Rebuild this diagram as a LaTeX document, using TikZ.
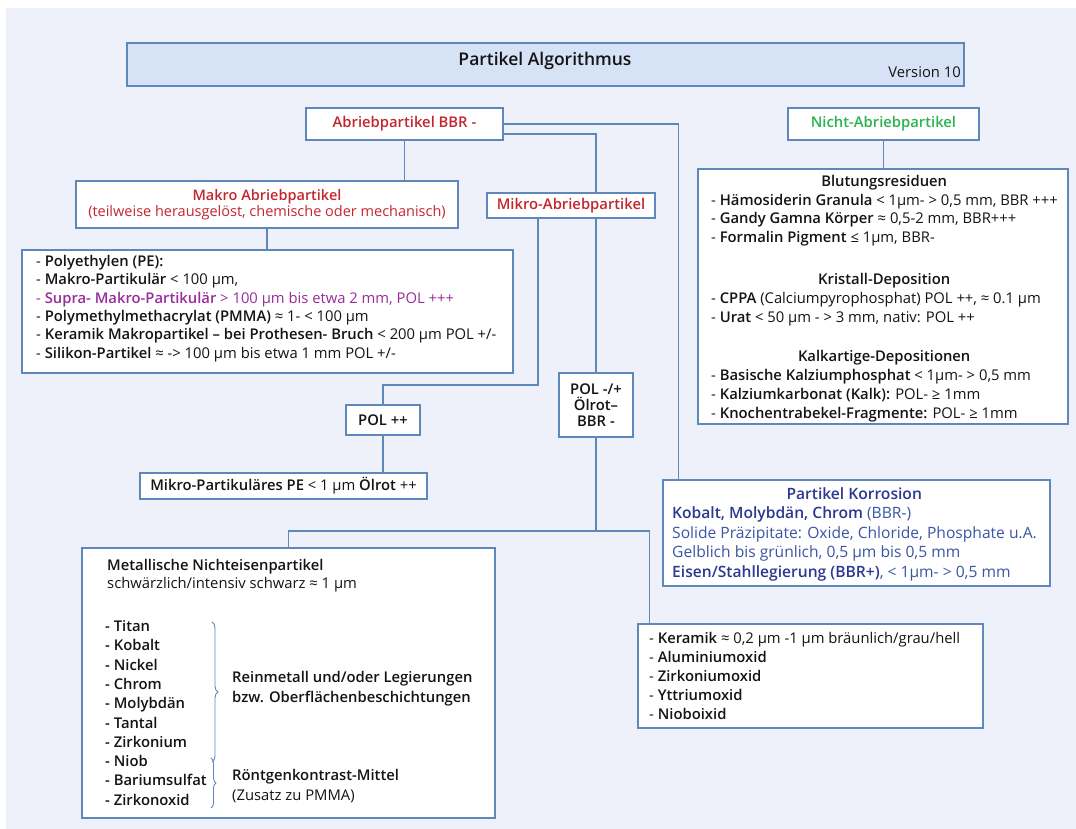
\documentclass[tikz,border=0pt]{standalone}
\usepackage{fontspec}
\setmainfont{Open Sans}[BoldFont={* Semibold}]
\usetikzlibrary{positioning,decorations.pathreplacing}
\definecolor{bgcol}{HTML}{EEF0FA}
\definecolor{titlefill}{HTML}{D6E2F5}
\definecolor{linecol}{HTML}{5E88BA}
\definecolor{abriebred}{HTML}{C4262E}
\definecolor{nichtgreen}{HTML}{2BB34D}
\definecolor{suprapurple}{HTML}{9B2C9B}
\definecolor{korrdark}{HTML}{2B3990}
\definecolor{korrblue}{HTML}{3A56A6}
\definecolor{textcol}{HTML}{141414}
\newcommand{\fs}{\fontsize{14.8}{18.3}\selectfont}
\newcommand{\lines}[1]{\begin{tabular}[t]{@{}l@{}}#1\end{tabular}}

\begin{document}
\begin{tikzpicture}[x=1pt, y=-1pt, font=\fs, text=textcol]
  % Define block styles
  \tikzstyle{box} = [rectangle, draw=linecol, line width=1.1pt, fill=white, inner sep=0pt]
  \tikzstyle{head} = [box, font=\fs\bfseries]
  \tikzstyle{txt} = [inner sep=0pt, anchor=base west]
  \tikzstyle{line} = [draw=linecol, line width=1.3pt]
  \tikzstyle{curly} = [draw=linecol, line width=0.9pt, decorate, decoration={brace, amplitude=#1}]

  % Background
  \useasboundingbox (0,0) rectangle (1076,829);
  \fill[white] (0,0) rectangle (1076,829);
  \fill[bgcol] (6,8) rectangle (1076,829);

  % Title
  \node [box, fill=titlefill, minimum width=837, minimum height=43] (title) at (545.5,64.5) {};
  \node [font=\fontsize{17.5}{20}\selectfont\bfseries] (titletext) at (545,61) {Partikel Algorithmus};
  \node [anchor=base east, inner sep=0pt] (version) at (961,78) {Version 10};

  % Nodes
  \node [head, minimum width=197, minimum height=32, text=abriebred] (abrieb) at (404.5,124) {Abriebpartikel BBR -};
  \node [head, minimum width=191, minimum height=32, text=nichtgreen] (nicht) at (883.5,124) {Nicht-Abriebpartikel};
  \node [box, minimum width=382, minimum height=47, text=abriebred, align=center, font=\fontsize{14.5}{18}\selectfont] (makro) at (267,204.5)
    {\textbf{Makro Abriebpartikel}\\[-2pt](teilweise herausgelöst, chemische oder mechanisch)};
  \node [head, minimum width=168, minimum height=25, text=abriebred] (mikro) at (571,205.5) {Mikro-Abriebpartikel};

  \node [box, minimum width=491, minimum height=123] (pe) at (267.5,311.5) {};
  \node [txt] (petext) at (36,266.5) {\lines{%
    - \textbf{Polyethylen (PE):}\\
    - \textbf{Makro-Partikulär} < 100 µm,\\
    {\color{suprapurple}- \textbf{Supra- Makro-Partikulär} > 100 µm bis etwa 2 mm, POL +++}\\
    - \textbf{Polymethylmethacrylat (PMMA)} ≈ 1- < 100 µm\\
    - \textbf{Keramik Makropartikel – bei Prothesen- Bruch} < 200 µm POL +/-\\
    - \textbf{Silikon-Partikel} ≈ -> 100 µm bis etwa 1 mm POL +/-}};

  \node [box, minimum width=370, minimum height=255] (blut) at (883,296.5) {};
  \node [txt, font=\fontsize{14.8}{18.7}\selectfont] (bluttext) at (711,186.5) {\lines{%
    \makebox[346pt]{\bfseries Blutungsresiduen}\\
    - \textbf{Hämosiderin Granula} < 1µm- > 0,5 mm, BBR +++\\
    - \textbf{Gandy Gamna Körper} ≈ 0,5-2 mm, BBR+++\\
    - \textbf{Formalin Pigment} ≤ 1µm, BBR-\\[23.3pt]
    \makebox[346pt]{\bfseries Kristall-Deposition}\\
    - \textbf{CPPA} (Calciumpyrophosphat) POL ++, ≈ 0.1 µm\\
    - \textbf{Urat} < 50 µm - > 3 mm, nativ: POL ++\\[21.3pt]
    \makebox[346pt]{\bfseries Kalkartige-Depositionen}\\
    - \textbf{Basische Kalziumphosphat} < 1µm- > 0,5 mm\\
    - \textbf{Kalziumkarbonat (Kalk):} POL- ≥ 1mm\\
    - \textbf{Knochentrabekel-Fragmente:} POL- ≥ 1mm}};

  \node [head, minimum width=74, minimum height=30] (polpp) at (383,420) {POL ++};
  \node [head, minimum width=74, minimum height=64, align=center] (polmp) at (596,405) {POL -/+\\[-2pt]Ölrot–\\[-2pt]BBR -};
  \node [box, minimum width=287, minimum height=26] (mikrope) at (283.5,486)
    {\textbf{Mikro-Partikuläres PE} < 1 µm \textbf{Ölrot} ++};

  \node [box, minimum width=387, minimum height=106] (korr) at (856.5,533) {};
  \node [txt, text=korrblue, font=\fontsize{15.6}{19.5}\selectfont] (korrtext) at (672,499) {\lines{%
    \makebox[364pt]{\color{korrdark}\bfseries Partikel Korrosion}\\
    {\color{korrdark}\bfseries Kobalt, Molybdän, Chrom} (BBR-)\\
    Solide Präzipitate: Oxide, Chloride, Phosphate u.A.\\
    Gelblich bis grünlich, 0,5 µm bis 0,5 mm\\
    {\color{korrdark}\bfseries Eisen/Stahllegierung (BBR+)}, < 1µm- > 0,5 mm}};

  \node [box, minimum width=413, minimum height=270] (metall) at (288.5,683) {};
  \node [txt] (mettext) at (107,570.5) {\lines{%
    \textbf{Metallische Nichteisenpartikel}\\
    schwärzlich/intensiv schwarz ≈ 1 µm}};
  \node [txt, font=\fontsize{14.8}{19.3}\selectfont\bfseries] (metlist) at (105,631.5) {\lines{%
    - Titan\\ - Kobalt\\ - Nickel\\ - Chrom\\ - Molybdän\\ - Tantal\\
    - Zirkonium\\ - Niob\\ - Bariumsulfat\\ - Zirkonoxid}};
  \node [txt, font=\fontsize{14.8}{20}\selectfont\bfseries] (reinmetall) at (232,682.5) {\lines{%
    Reinmetall und/oder Legierungen\\
    bzw. Oberflächenbeschichtungen}};
  \node [txt, font=\fontsize{14.8}{20}\selectfont] (roentgen) at (232,780.5) {\lines{%
    \textbf{Röntgenkontrast-Mittel}\\
    (Zusatz zu PMMA)}};
  \path [curly=6pt] (212,622) -- (212,762);
  \path [curly=5pt] (211,758) -- (211,808);

  \node [box, minimum width=345, minimum height=104] (keramik) at (810.5,676) {};
  \node [txt, font=\fontsize{14.8}{19}\selectfont] (keramiktext) at (649,643.5) {\lines{%
    - \textbf{Keramik} ≈ 0,2 µm -1 µm bräunlich/grau/hell\\
    - \textbf{Aluminiumoxid}\\
    - \textbf{Zirkoniumoxid}\\
    - \textbf{Yttriumoxid}\\
    - \textbf{Nioboixid}}};

  % Connectors
  \coordinate (bend) at (538,385);
  \coordinate (fork) at (596,531);
  \path [line] (abrieb) -- (abrieb |- makro.north);
  \path [line] (abrieb.east) -| ([xshift=16pt]korr.north west);
  \path [line] ([yshift=-10pt]abrieb.east) -| (polmp.north |- mikro.north);
  \path [line] (polmp.north |- mikro.south) -- (polmp.north);
  \path [line] (bend |- mikro.south) -- (bend) -| (polpp.north);
  \path [line] (makro) -- (makro |- pe.north);
  \path [line] (polpp) -- (polpp |- mikrope.north);
  \path [line] (nicht) -- (nicht |- blut.north);
  \path [line] (polmp) -- (fork);
  \path [line] (metall.north) |- (fork) -| ([xshift=12pt]keramik.north west);
\end{tikzpicture}
\end{document}
